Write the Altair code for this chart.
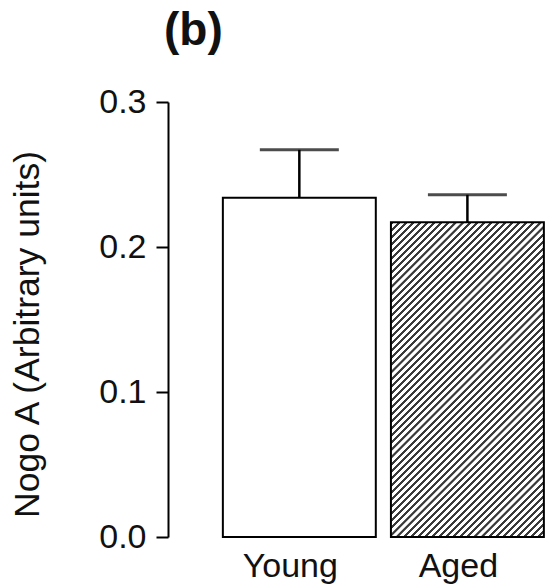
import altair as alt
import pandas as pd

groups = ["Young", "Aged"]
means = [0.234, 0.217]
errors = [0.033, 0.019]

df = pd.DataFrame({"group": groups, "mean": means, "err": errors})
df["upper"] = df["mean"] + df["err"]

# hatch fill for the "Aged" bar, built as a striped linear gradient
W_PLOT, H_PLOT = 380, 435
bar_w, bar_h = 153.0, 0.217 / 0.3 * H_PLOT
r = bar_h / bar_w
s = (1 + r) / (1 + r * r)
n_stripes = 66
stops = []
for k in range(n_stripes):
    a = round(k / n_stripes, 5)
    b = round((k + 0.4) / n_stripes, 5)
    b2 = round(b + 0.0004, 5)
    c = round((k + 1) / n_stripes - 0.0004, 5)
    stops += [
        {"offset": a, "color": "#3a3a3a"},
        {"offset": b, "color": "#3a3a3a"},
        {"offset": b2, "color": "#ffffff"},
        {"offset": c, "color": "#ffffff"},
    ]
hatch = {"gradient": "linear", "x1": 0, "y1": 0, "x2": round(s, 5), "y2": round(s * r, 5), "stops": stops}

FONT = "Liberation Sans"

x = alt.X(
    "group:N",
    sort=groups,
    scale=alt.Scale(paddingInner=0.09, paddingOuter=0.1755, align=0.93),
    axis=alt.Axis(
        title=None, labelAngle=0, domain=False, ticks=False,
        labelFont=FONT, labelFontSize=34, labelColor="#111", labelPadding=12,
        labelOffset=-9,
    ),
)
y_scale = alt.Scale(domain=[0, 0.3], nice=False)

bars = alt.Chart(df).mark_bar(stroke="black", strokeWidth=2).encode(
    x=x,
    y=alt.Y(
        "mean:Q",
        scale=y_scale,
        axis=alt.Axis(
            values=[0, 0.1, 0.2, 0.3], format=".1f", grid=False,
            domainColor="black", domainWidth=2, tickColor="black", tickWidth=2,
            tickSize=12, labelFont=FONT, labelFontSize=34, labelColor="#111",
            labelPadding=10, title="Nogo A (Arbitrary units)", titleFont=FONT,
            titleFontSize=35.5, titleFontWeight="normal", titleColor="#111",
            titleAngle=-90, titleAlign="center", titleBaseline="alphabetic",
            titleX=-130, titleY=232,
        ),
    ),
    fill=alt.condition(alt.datum.group == "Aged", alt.value(hatch), alt.value("white")),
)

err_line = alt.Chart(df).mark_rule(color="black", strokeWidth=2.5).encode(
    x=alt.X("group:N", sort=groups),
    y=alt.Y("mean:Q", scale=y_scale),
    y2="upper:Q",
)
caps = alt.Chart(df).mark_tick(color="black", size=79, thickness=3, orient="horizontal").encode(
    x=alt.X("group:N", sort=groups),
    y=alt.Y("upper:Q", scale=y_scale),
)

chart = (
    alt.layer(bars, err_line, caps)
    .properties(
        width=W_PLOT,
        height=H_PLOT,
        autosize=alt.AutoSizeParams(type="none"),
        padding={"left": 168, "top": 102, "right": 0, "bottom": 51},
        title=alt.TitleParams(
            "(b)", anchor="start", frame="group", dx=-4, offset=-16,
            font=FONT, fontSize=46, fontWeight="bold", color="#111", baseline="bottom",
        ),
    )
    .configure_view(stroke=None)
)

chart.save("out.html", embed_options={"renderer": "svg", "actions": False})
